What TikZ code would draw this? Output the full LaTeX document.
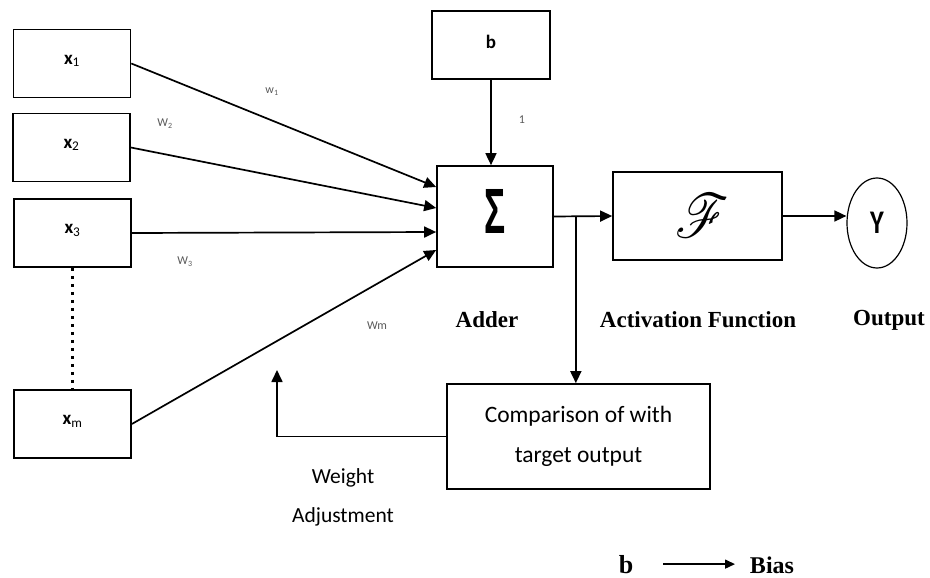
\documentclass[tikz,border=0pt]{standalone}
\usepackage{fontspec}
\usepackage{graphicx}
\usepackage{mathrsfs}
\setmainfont{Liberation Serif}
\newfontfamily\carl{Carlito}
\newfontfamily\lsans{Liberation Sans}
\usetikzlibrary{arrows.meta,calc,shapes.geometric}

\begin{document}
\begin{tikzpicture}[x=1pt,y=-1pt,
  box/.style={draw,line width=1.7pt,rectangle,inner sep=0pt},
  inbox/.style={box,minimum width=117pt,minimum height=68pt,text depth=8pt,
    font=\carl\bfseries\fontsize{19}{19}\selectfont},
  link/.style={line width=1.7pt,-{Triangle[length=12pt,width=11pt]}},
  wlab/.style={text=black!65,font=\carl\fontsize{12}{12}\selectfont,inner sep=0pt},
  head/.style={font=\bfseries\fontsize{23}{23}\selectfont,inner sep=0pt},
  note/.style={font=\carl\fontsize{21.5}{39.5}\selectfont,align=center,inner sep=0pt}]
\useasboundingbox (0,0) rectangle (930,578);

% inputs
\node[inbox] (x1) at (72,63.5) {x\textsubscript{\mdseries 1}};
\node[inbox] (x2) at (71.5,147.5) {x\textsubscript{\mdseries 2}};
\node[inbox] (x3) at (72.5,233) {x\textsubscript{\mdseries 3}};
\node[inbox] (xm) at (72.5,424) {x\textsubscript{\mdseries m}};
\draw[line width=3pt,dash pattern=on 3pt off 5pt] (x3.south) -- (xm.north);

% bias, adder, activation, output
\node[box,minimum width=118pt,minimum height=68pt,text depth=6pt,
  font=\carl\bfseries\fontsize{19}{19}\selectfont] (b) at (491,45) {b};
\node[box,minimum width=116pt,minimum height=101pt,text depth=10pt] (sum) at (495,216.5)
  {\lsans\bfseries\fontsize{64}{64}\selectfont\scalebox{0.55}[1]{Σ}};
\node[box,minimum width=169pt,minimum height=88pt] (act) at (697.5,216)
  {\hspace*{10pt}\raisebox{-10pt}{\scalebox{5.2}[6.2]{$\mathscr{F}$}}};
\node[draw,ellipse,line width=1.2pt,minimum width=60pt,minimum height=90pt,inner sep=0pt,
  font=\carl\bfseries\fontsize{33}{33}\selectfont] (y) at (877,223) {\scalebox{0.8}[1]{Y}};

% comparison block
\node[box,note,font=\carl\fontsize{23.5}{40}\selectfont,minimum width=263pt,minimum height=105pt]
  (cmp) at (578.5,436.5) {Comparison of with\\target output};

% weighted inputs into the adder
\draw[link] (x1.east) -- ($(sum.west)+(0,-29.5)$);
\draw[link] (x2.east) -- ($(sum.west)+(0,-8.5)$);
\draw[link] (x3.east) -- ($(sum.west)+(0,15.5)$);
\draw[link] (xm.east) -- ($(sum.west)+(0,33.5)$);
\draw[link] (b.south) -- (b.south |- sum.north);
\draw[link] (sum.east) -- (act.west);
\draw[link] (act.east) -- (act.east -| y.west);

% error branch and feedback
\coordinate (br) at ($(sum.east)+(22,0)$);
\coordinate (fb) at (277,370);
\draw[link] (br) -- (br |- cmp.north);
\draw[link] (cmp.west) -| (fb);

% weight and bias labels
\node[wlab] (w1) at (272,92) {w\textsubscript{1}};
\node[wlab] (w2) at (165,124) {W\textsubscript{2}};
\node[wlab] (w3) at (185,262) {W\textsubscript{3}};
\node[wlab] (wm) at (377,326) {Wm};
\node[wlab] (one) at (522,120) {1};

% block captions
\node[head] (cadd) at (487,320) {Adder};
\node[head] (cact) at (698,320) {Activation Function};
\node[head] (cout) at (889,320) {Output};
\node[note] (wadj) at (343,497.5) {Weight\\Adjustment};

% legend
\node[font=\bfseries\fontsize{26}{26}\selectfont,inner sep=0pt,anchor=base] (lb) at (626,573) {b};
\node[font=\bfseries\fontsize{24}{24}\selectfont,inner sep=0pt,anchor=base] (lbias) at (772,573) {Bias};
\draw[line width=1.5pt,-{Triangle[length=10pt,width=9pt]},shorten <=37pt,shorten >=37pt]
  (lb.center) -- (lb.center -| lbias.center);
\end{tikzpicture}
\end{document}
